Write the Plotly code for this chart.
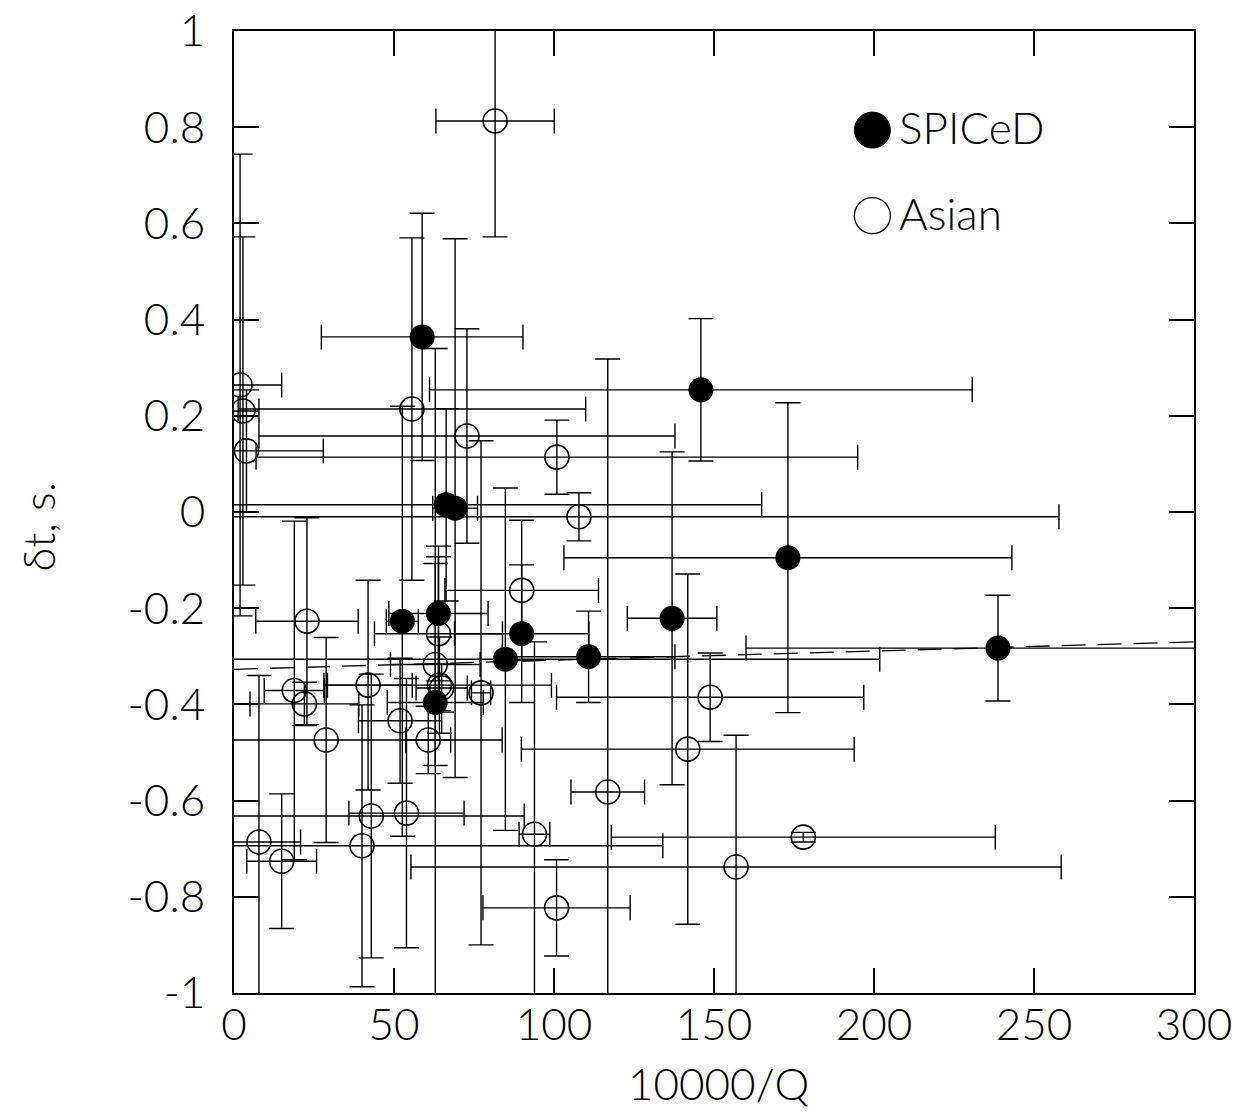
import plotly.graph_objects as go

# ---------------- data ----------------
# SPICeD (filled circles)
spiced_x = [58.8, 145.9, 66.3, 69.1, 173.1, 52.6, 63.9, 89.9, 136.9, 84.8, 110.8, 238.75, 62.9]
spiced_y = [0.364, 0.254, 0.015, 0.008, -0.095, -0.227, -0.211, -0.253, -0.221, -0.306, -0.301, -0.283, -0.396]
spiced_xerr = [31.5, 84.8, 98.6, 7.0, 70.0, 5.0, 15.5, 21.0, 14.0, 117.0, 27.0, 78.75, 15.0]
spiced_yerr = [0.257, 0.148, 0.200, 0.560, 0.322, 0.447, 0.140, 0.143, 0.346, 0.356, 0.095, 0.110, 0.736]

# Asian (open circles)
asian_x = [81.6, 1.9, 2.8, 3.9, 55.6, 72.8, 100.9, 107.8, 89.9, 22.8, 63.9, 62.9, 64.2, 64.9, 77.2,
           41.9, 18.85, 22.0, 28.8, 51.9, 60.7, 148.8, 141.8, 116.8, 53.9, 42.9, 40.0, 7.8, 14.9,
           93.9, 177.9, 156.9, 100.8]
asian_y = [0.813, 0.264, 0.210, 0.127, 0.214, 0.158, 0.114, -0.010, -0.163, -0.227, -0.253, -0.317,
           -0.360, -0.366, -0.376, -0.360, -0.371, -0.399, -0.474, -0.434, -0.474, -0.385, -0.493,
           -0.582, -0.626, -0.632, -0.694, -0.686, -0.726, -0.670, -0.676, -0.738, -0.823]
asian_xerr = [18.5, 13.0, 5.0, 24.0, 54.3, 65.0, 94.0, 150.0, 24.0, 16.0, 20.0, 14.0, 35.0, 8.0, 3.0,
              13.8, 9.4, 17.0, 55.0, 13.0, 7.0, 48.0, 52.0, 11.5, 18.0, 47.8, 94.0, 13.0, 10.9,
              4.8, 60.0, 101.6, 23.0]
asian_yerr = [0.241, 0.480, 0.362, 0.127, 0.356, 0.223, 0.077, 0.050, 0.146, 0.215, 0.160, 0.210,
              0.100, 0.050, 0.524, 0.218, 0.352, 0.045, 0.213, 0.130, 0.070, 0.092, 0.364, 0.900,
              0.280, 0.295, 0.293, 0.346, 0.140, 0.400, 0.010, 0.274, 0.100]

# dashed regression line
fit_x = [0, 300]
fit_y = [-0.327, -0.270]

x_ticks = [0, 50, 100, 150, 200, 250, 300]
y_ticks = [1, 0.8, 0.6, 0.4, 0.2, 0, -0.2, -0.4, -0.6, -0.8, -1]
y_ticktext = ["1", "0.8", "0.6", "0.4", "0.2", "0", "-0.2", "-0.4", "-0.6", "-0.8", "-1"]

legend_labels = ["SPICeD", "Asian"]

# ---------------- style ----------------
FONT = "Lato"
FW = 300
FS = 44
BAR_W = 1.4
CAP = 12.5

fig = go.Figure()

fig.add_trace(go.Scatter(
    x=fit_x, y=fit_y, mode="lines",
    line=dict(color="black", width=1.3, dash="24px,12px"),
    showlegend=False, hoverinfo="skip"))

fig.add_trace(go.Scatter(
    x=asian_x, y=asian_y, mode="markers", name=legend_labels[1],
    marker=dict(symbol="circle-open", size=24, color="black", line=dict(width=1.6, color="black")),
    error_x=dict(type="data", array=asian_xerr, symmetric=True, color="black", thickness=BAR_W, width=CAP),
    error_y=dict(type="data", array=asian_yerr, symmetric=True, color="black", thickness=BAR_W, width=CAP),
    showlegend=False, cliponaxis=True))

fig.add_trace(go.Scatter(
    x=spiced_x, y=spiced_y, mode="markers", name=legend_labels[0],
    marker=dict(symbol="circle", size=25, color="black", line=dict(width=0)),
    error_x=dict(type="data", array=spiced_xerr, symmetric=True, color="black", thickness=BAR_W, width=CAP),
    error_y=dict(type="data", array=spiced_yerr, symmetric=True, color="black", thickness=BAR_W, width=CAP),
    showlegend=False, cliponaxis=True))

# legend drawn as layout decoration (large symbols)
LEG_X = 0.665   # paper coords of legend symbol centre
LEG_Y = [0.897, 0.808]
tfont = dict(family=FONT, size=FS, color="black", weight=FW)
shapes = [
    dict(type="circle", xref="paper", yref="paper", xsizemode="pixel", ysizemode="pixel",
         xanchor=LEG_X, yanchor=LEG_Y[0], x0=-18, x1=18, y0=-18, y1=18,
         fillcolor="black", line=dict(color="black", width=1)),
    dict(type="circle", xref="paper", yref="paper", xsizemode="pixel", ysizemode="pixel",
         xanchor=LEG_X, yanchor=LEG_Y[1], x0=-18, x1=18, y0=-18, y1=18,
         fillcolor="rgba(0,0,0,0)", line=dict(color="black", width=1.3)),
]
annotations = [
    dict(text=legend_labels[0], xref="paper", yref="paper", x=LEG_X + 0.026, y=LEG_Y[0] + 0.003,
         xanchor="left", yanchor="middle", showarrow=False, font=tfont),
    dict(text=legend_labels[1], xref="paper", yref="paper", x=LEG_X + 0.026, y=LEG_Y[1] + 0.003,
         xanchor="left", yanchor="middle", showarrow=False, font=tfont),
    dict(text="10000/Q", xref="paper", yref="paper", x=0.505, y=-0.094,
         xanchor="center", yanchor="middle", showarrow=False, font=tfont),
    dict(text="δt, s.", xref="paper", yref="paper", x=-0.204, y=0.484, textangle=-90,
         xanchor="center", yanchor="middle", showarrow=False, font=tfont),
]

axis_common = dict(
    showgrid=False, zeroline=False, showline=True, linecolor="black", linewidth=2,
    mirror="ticks", ticks="inside", ticklen=25, tickwidth=1.5, tickcolor="black",
    tickfont=tfont, automargin=False, ticklabeloverflow="allow",
)

# page body adds an 8px offset, so margins are trimmed on the left/top
fig.update_layout(
    template="none",
    width=1249, height=1116,
    margin=dict(l=226, r=63, t=23, b=131, pad=0),
    paper_bgcolor="white", plot_bgcolor="white",
    xaxis=dict(range=[0, 300], tickmode="array", tickvals=x_ticks, ticklabelstandoff=-8, **axis_common),
    yaxis=dict(range=[-1, 1], tickmode="array", tickvals=y_ticks, ticktext=y_ticktext,
               ticklabelstandoff=18, **axis_common),
    shapes=shapes, annotations=annotations, showlegend=False,
)

fig.write_html("out.html")
